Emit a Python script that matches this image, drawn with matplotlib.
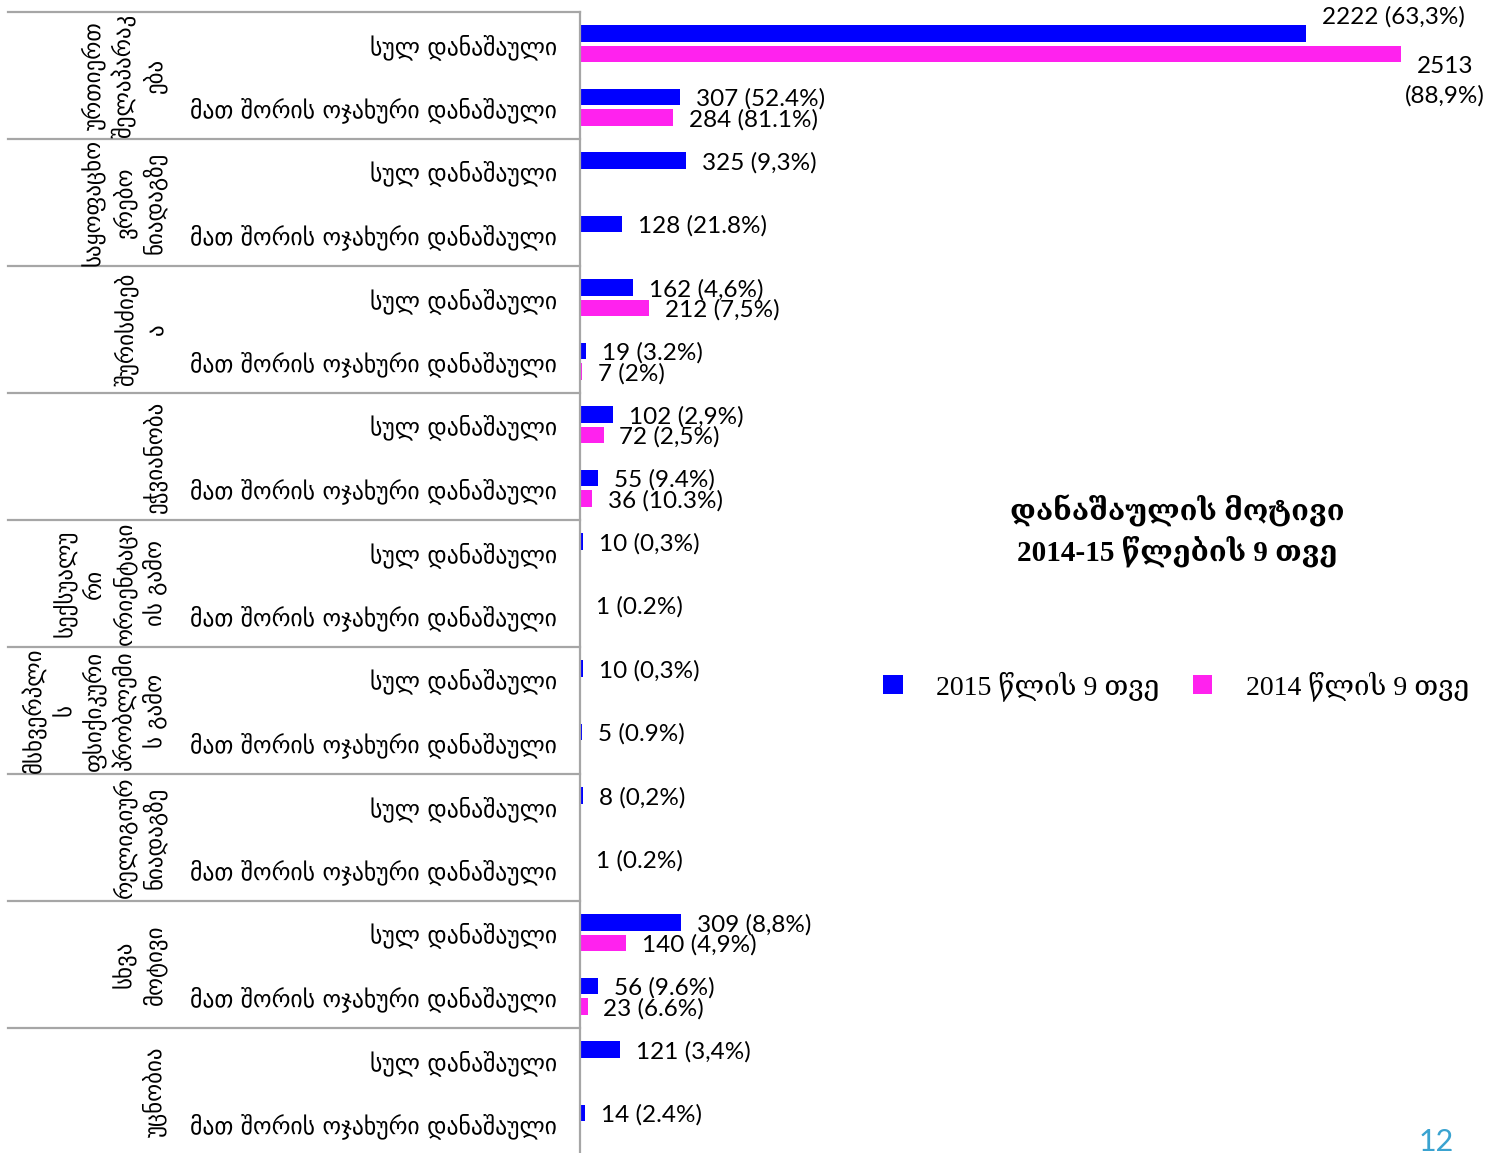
import numpy as np
import matplotlib
matplotlib.use("Agg")
import matplotlib.pyplot as plt
from matplotlib.transforms import blended_transform_factory

plt.rcParams["font.family"] = ["DejaVu Sans"]

# data
group_labels = [
    "ურთიერთ\nშელაპარაკ\nება",
    "საყოფაცხო\nვრებო\nნიადაგზე",
    "შურისძიებ\nა",
    "ეჭვიანობა",
    "სექსუალუ\nრი\nორიენტაცი\nის გამო",
    "მსხვერპლი\nს\nფსიქიკური\nპრობლემი\nს გამო",
    "რელიგიურ\nნიადაგზე",
    "სხვა\nმოტივი",
    "უცნობია",
]
subcats = ["სულ დანაშაული", "მათ შორის ოჯახური დანაშაული"]

vals_2015 = [2222, 307, 325, 128, 162, 19, 102, 55, 10, 1, 10, 5, 8, 1, 309, 56, 121, 14]
pct_2015 = ["63,3%", "52.4%", "9,3%", "21.8%", "4,6%", "3.2%", "2,9%", "9.4%",
            "0,3%", "0.2%", "0,3%", "0.9%", "0,2%", "0.2%", "8,8%", "9.6%", "3,4%", "2.4%"]
vals_2014 = [2513, 284, np.nan, np.nan, 212, 7, 72, 36, np.nan, np.nan,
             np.nan, np.nan, np.nan, np.nan, 140, 23, np.nan, np.nan]
pct_2014 = ["88,9%", "81.1%", "", "", "7,5%", "2%", "2,5%", "10.3%", "", "",
            "", "", "", "", "4,9%", "6.6%", "", ""]

series_names = ["2015 წლის 9 თვე", "2014 წლის 9 თვე"]
blue = "#0000FF"
pink = "#FF22EE"
grid_gray = "#A6A6A6"

num_font = ["Lato", "DejaVu Sans"]
serif_font = ["Liberation Serif", "DejaVu Serif", "DejaVu Sans"]

fig = plt.figure(figsize=(15.01, 11.53), dpi=100)
ax = fig.add_axes([580 / 1501, 1 - 1155 / 1153, 921 / 1501, 1143 / 1153])

n = len(vals_2015)
y = np.arange(n)
h = 0.26
off = 0.165

b15 = ax.barh(y - off, vals_2015, height=h, color=blue, label=series_names[0])
b14 = ax.barh(y + off, vals_2014, height=h, color=pink, label=series_names[1])

ax.set_xlim(0, 2819)
ax.set_ylim(n - 0.5, -0.5)

ax.set_yticks(y)
ax.set_yticklabels([subcats[i % 2] for i in range(n)], fontsize=17)
ax.tick_params(axis="y", length=0, pad=16.5)
for t in ax.get_yticklabels():
    t.set_verticalalignment("center_baseline")
ax.set_xticks([])
for s in ["top", "right", "bottom"]:
    ax.spines[s].set_visible(False)
ax.spines["left"].set_color(grid_gray)
ax.spines["left"].set_linewidth(1.6)

# value labels
for i in range(n):
    v = vals_2015[i]
    txt = f"{v} ({pct_2015[i]})"
    dy = 12 if i == 0 else -1.5
    ax.annotate(txt, (v, i - off), xytext=(11.5, dy), textcoords="offset points",
                ha="left", va="center", fontsize=17.5, family=num_font)
    v = vals_2014[i]
    if not np.isnan(v):
        if i == 0:
            ax.annotate(f"{int(v)}\n({pct_2014[i]})", (v, i + off), xytext=(3, -19.5),
                        textcoords="offset points", ha="left", va="center",
                        multialignment="center", fontsize=17.5, family=num_font,
                        linespacing=1.5)
        else:
            ax.annotate(f"{int(v)} ({pct_2014[i]})", (v, i + off), xytext=(11.5, -1.5),
                        textcoords="offset points", ha="left", va="center",
                        fontsize=17.5, family=num_font)

# group separators and labels
trans = blended_transform_factory(ax.transAxes, ax.transData)
x_left = (8 - 580) / 921
for g in range(len(group_labels) + 1):
    ax.plot([x_left, 0], [2 * g - 0.5, 2 * g - 0.5], color=grid_gray, lw=1.6,
            transform=trans, clip_on=False)
for g, lab in enumerate(group_labels):
    ax.text((167 - 580) / 921, 2 * g + 0.5, lab, transform=trans, rotation=90,
            ha="right", va="center", multialignment="center", fontsize=16.5,
            linespacing=1.3)

# title
fig.text(1177 / 1501, 1 - 531 / 1153, "დანაშაულის მოტივი\n2014-15 წლების 9 თვე",
         ha="center", va="center", fontsize=21, fontweight="bold",
         family=serif_font, linespacing=1.35)

# legend
fig.legend(handles=[b15, b14], labels=series_names, loc="center",
           bbox_to_anchor=(1176 / 1501, 1 - 686 / 1153), ncol=2, frameon=False,
           prop={"family": serif_font, "size": 20}, handlelength=0.7,
           handleheight=0.7, handletextpad=1.2, columnspacing=1.2)

# slide number
fig.text(1436 / 1501, 1 - 1128 / 1153, "12", ha="center", va="top",
         fontsize=22, color="#3AA3D0", family=num_font)

fig.savefig("out.png", dpi=100)
